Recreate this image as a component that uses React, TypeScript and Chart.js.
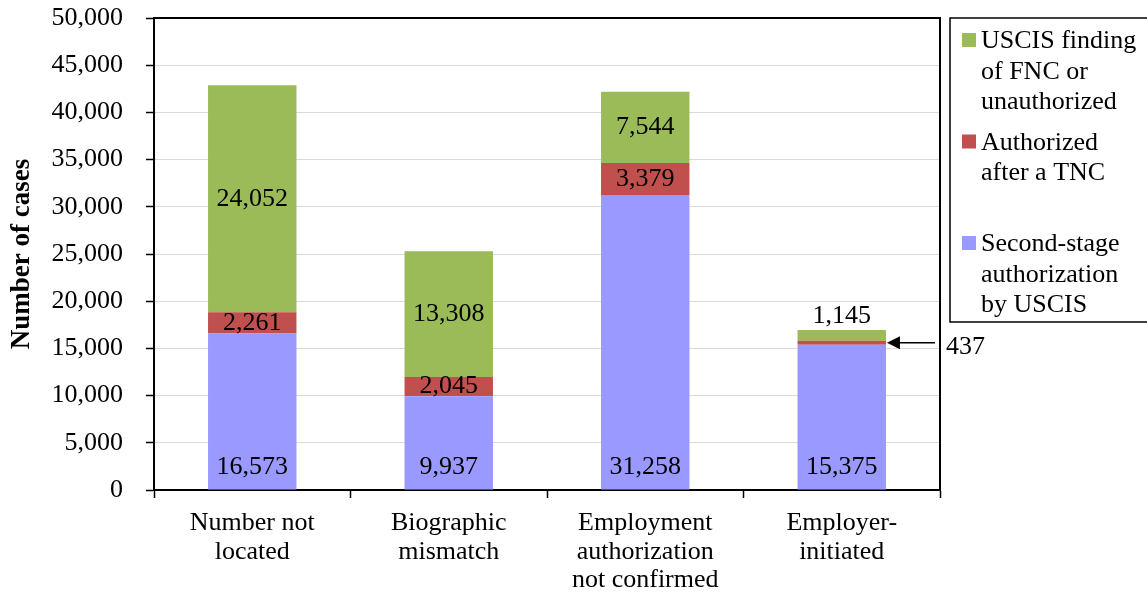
import React, { useEffect, useRef } from "react";
import { Chart, registerables } from "chart.js";

Chart.register(...registerables);

// ---- data ----
const categories: string[][] = [
  ["Number not", "located"],
  ["Biographic", "mismatch"],
  ["Employment", "authorization", "not confirmed"],
  ["Employer-", "initiated"],
];
const secondStage = [16573, 9937, 31258, 15375];
const authorizedAfterTnc = [2261, 2045, 3379, 437];
const fncOrUnauthorized = [24052, 13308, 7544, 1145];
const seriesNames = [
  "Second-stage authorization by USCIS",
  "Authorized after a TNC",
  "USCIS finding of FNC or unauthorized",
];
const seriesColors = ["#9999FF", "#C0504D", "#9BBB59"];
// legend shows top series first
const legendLines: string[][] = [
  ["USCIS finding", "of FNC or", "unauthorized"],
  ["Authorized", "after a TNC"],
  ["Second-stage", "authorization", "by USCIS"],
];
const legendColors = ["#9BBB59", "#C0504D", "#9999FF"];
const yMin = 0;
const yMax = 50000;
const yStep = 5000;
const yTitle = "Number of cases";

const SERIF = "'Liberation Serif', 'Times New Roman', Times, serif";
const fmt = (v: number) => v.toLocaleString("en-US");

const overlayPlugin = {
  id: "overlay",
  afterDatasetsDraw(chart: any) {
    const ctx = chart.ctx;
    const area = chart.chartArea;
    ctx.save();
    // plot frame top/right
    ctx.strokeStyle = "#000";
    ctx.lineWidth = 2;
    ctx.beginPath();
    ctx.moveTo(area.left, area.top);
    ctx.lineTo(area.right, area.top);
    ctx.lineTo(area.right, area.bottom);
    ctx.stroke();

    ctx.fillStyle = "#000";
    ctx.font = `26px ${SERIF}`;
    ctx.textAlign = "center";
    const nDs = chart.data.datasets.length;
    chart.data.datasets.forEach((ds: any, di: number) => {
      const meta = chart.getDatasetMeta(di);
      meta.data.forEach((bar: any, i: number) => {
        const v = ds.data[i] as number;
        const top = Math.min(bar.y, bar.base);
        const bottom = Math.max(bar.y, bar.base);
        const h = bottom - top;
        const label = fmt(v);
        if (di === 0) {
          ctx.textBaseline = "alphabetic";
          ctx.fillText(label, bar.x, bottom - 16);
        } else if (h < 8) {
          // callout arrow
          const y = (top + bottom) / 2;
          const tipX = bar.x + bar.width / 2 + 1;
          const endX = area.right - 5;
          ctx.lineWidth = 1.5;
          ctx.beginPath();
          ctx.moveTo(tipX + 12, y);
          ctx.lineTo(endX, y);
          ctx.stroke();
          ctx.beginPath();
          ctx.moveTo(tipX, y);
          ctx.lineTo(tipX + 13, y - 6.5);
          ctx.lineTo(tipX + 13, y + 6.5);
          ctx.closePath();
          ctx.fill();
          ctx.textAlign = "left";
          ctx.textBaseline = "middle";
          ctx.fillText(label, area.right + 6, y + 4);
          ctx.textAlign = "center";
        } else if (di === nDs - 1 && h < 15) {
          ctx.textBaseline = "alphabetic";
          ctx.fillText(label, bar.x, top - 7);
        } else {
          ctx.textBaseline = "middle";
          ctx.fillText(label, bar.x, (top + bottom) / 2);
        }
      });
    });

    // legend box
    const lx = area.right + 10;
    const ly = area.top;
    ctx.lineWidth = 1.5;
    ctx.strokeRect(lx, ly, 210, 304);
    ctx.textAlign = "left";
    ctx.textBaseline = "alphabetic";
    legendLines.forEach((lines, gi) => {
      const base0 = ly + 30 + gi * 101.5;
      ctx.fillStyle = legendColors[gi];
      ctx.fillRect(lx + 12, base0 - 15, 14, 14);
      ctx.fillStyle = "#000";
      lines.forEach((t, li) => {
        ctx.fillText(t, lx + 31, base0 + li * 30.5);
      });
    });
    ctx.restore();
  },
};

export default function App() {
  const ref = useRef<HTMLCanvasElement | null>(null);
  useEffect(() => {
    if (!ref.current) return;
    const data = [secondStage, authorizedAfterTnc, fncOrUnauthorized];
    const chart = new Chart(ref.current, {
      type: "bar",
      data: {
        labels: categories,
        datasets: data.map((d, i) => ({
          label: seriesNames[i],
          data: d,
          backgroundColor: seriesColors[i],
          borderWidth: 0,
          categoryPercentage: 1,
          barPercentage: 0.45,
        })),
      },
      options: {
        responsive: false,
        animation: false,
        layout: { padding: { left: 0, right: 207, top: 18, bottom: 0 } },
        plugins: {
          legend: { display: false },
          tooltip: { enabled: false },
        },
        scales: {
          x: {
            stacked: true,
            grid: {
              display: true,
              drawOnChartArea: false,
              tickColor: "#000",
              tickLength: 8,
              tickWidth: 1.5,
            },
            border: { color: "#000", width: 2 },
            ticks: {
              color: "#000",
              font: { family: SERIF, size: 26, lineHeight: 1.1 },
              padding: 11,
              maxRotation: 0,
              autoSkip: false,
            },
            afterFit: (s: any) => {
              s.height = 106;
              s.paddingLeft = 0;
              s.paddingRight = 0;
            },
          },
          y: {
            stacked: true,
            min: yMin,
            max: yMax,
            grid: {
              color: "#d9d9d9",
              lineWidth: 1,
              tickColor: "#000",
              tickLength: 8,
              tickWidth: 1.5,
            },
            border: { color: "#000", width: 2 },
            ticks: {
              stepSize: yStep,
              color: "#000",
              font: { family: SERIF, size: 26 },
              padding: 23,
              callback: (v: any) => fmt(Number(v)),
            },
            title: {
              display: true,
              text: yTitle,
              color: "#000",
              font: { family: SERIF, size: 27, weight: "bold" },
              padding: { top: 6, bottom: 0 },
            },
            afterFit: (s: any) => {
              s.width = 154;
              s.paddingTop = 0;
              s.paddingBottom = 0;
            },
          },
        },
      },
      plugins: [overlayPlugin],
    });
    return () => chart.destroy();
  }, []);
  return (
    <div style={{ position: "fixed", left: 0, top: 0, width: 1147, height: 596, background: "#fff" }}>
      <canvas ref={ref} width={1147} height={596} style={{ display: "block" }} />
    </div>
  );
}
